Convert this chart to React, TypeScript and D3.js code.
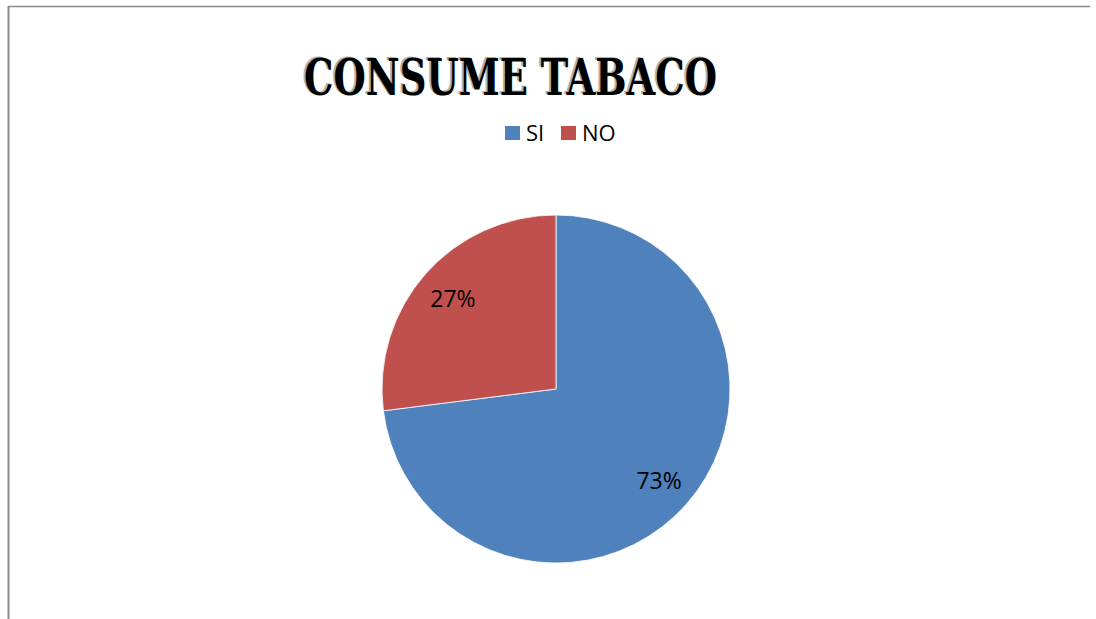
import { useEffect, useRef } from 'react';
import * as d3 from 'd3';

const categories = ['SI', 'NO'];
const values = [73, 27];
const colors = ['#4F81BD', '#C0504D'];
const title = 'CONSUME TABACO';

export default function App() {
  const svgRef = useRef<SVGSVGElement>(null);
  const width = 1096;
  const height = 619;

  useEffect(() => {
    if (!svgRef.current) return;
    const svg = d3.select(svgRef.current);
    svg.selectAll('*').remove();

    // Chart frame (only top and left edges are visible)
    svg.append('line')
      .attr('x1', 8).attr('y1', 6.5).attr('x2', 1090).attr('y2', 6.5)
      .attr('stroke', '#8a8a8a').attr('stroke-width', 1.5);
    svg.append('line')
      .attr('x1', 8.5).attr('y1', 6).attr('x2', 8.5).attr('y2', height)
      .attr('stroke', '#8a8a8a').attr('stroke-width', 2);

    // Title with a faint offset shadow
    const titleFont = "'DejaVu Serif', serif";
    svg.append('text')
      .attr('x', 302).attr('y', 94)
      .attr('textLength', 413).attr('lengthAdjust', 'spacingAndGlyphs')
      .attr('font-size', '50px').attr('font-weight', '700')
      .attr('fill', '#b0b0b0')
      .style('font-family', titleFont)
      .text(title);
    svg.append('text')
      .attr('x', 304).attr('y', 95)
      .attr('textLength', 413).attr('lengthAdjust', 'spacingAndGlyphs')
      .attr('font-size', '50px').attr('font-weight', '700')
      .attr('fill', '#000')
      .style('font-family', titleFont)
      .text(title);

    // Legend
    const legendFont = "'Open Sans', sans-serif";
    const legendX = d3.scaleOrdinal<string, number>().domain(categories).range([505, 561]);
    const legend = svg.append('g');
    const items = legend.selectAll('g').data(categories).enter().append('g')
      .attr('transform', d => `translate(${legendX(d)}, 126)`);
    items.append('rect')
      .attr('width', 15).attr('height', 14)
      .attr('fill', (_, i) => colors[i]);
    items.append('text')
      .attr('x', 21).attr('y', 15)
      .attr('font-size', '22px')
      .attr('fill', '#000')
      .style('font-family', legendFont)
      .text(d => d);

    // Pie
    const cx = 556, cy = 389, radius = 174;
    const data = categories.map((c, i) => ({ label: c, value: values[i], color: colors[i] }));
    const pie = d3.pie<{ label: string; value: number; color: string }>()
      .value(d => d.value)
      .sort(null);
    const arc = d3.arc<d3.PieArcDatum<{ label: string; value: number; color: string }>>()
      .innerRadius(0).outerRadius(radius);
    const labelArc = d3.arc<d3.PieArcDatum<{ label: string; value: number; color: string }>>()
      .innerRadius(radius * 0.79).outerRadius(radius * 0.79);

    const chart = svg.append('g').attr('transform', `translate(${cx}, ${cy})`);
    const arcs = pie(data);
    chart.selectAll('path').data(arcs).enter().append('path')
      .attr('d', arc)
      .attr('fill', d => d.data.color)
      .attr('stroke', '#fff')
      .attr('stroke-width', 0.8);

    const total = d3.sum(values);
    chart.selectAll('text.lbl').data(arcs).enter().append('text')
      .attr('class', 'lbl')
      .attr('transform', d => `translate(${labelArc.centroid(d)})`)
      .attr('text-anchor', 'middle')
      .attr('dy', '0.4em')
      .attr('font-size', '23px')
      .attr('fill', '#000')
      .style('font-family', legendFont)
      .text(d => `${Math.round((d.data.value / total) * 100)}%`);
  }, []);

  return (
    <div style={{ position: 'absolute', left: 0, top: 0, background: '#fff' }}>
      <svg ref={svgRef} width={width} height={height} style={{ display: 'block' }} />
    </div>
  );
}
